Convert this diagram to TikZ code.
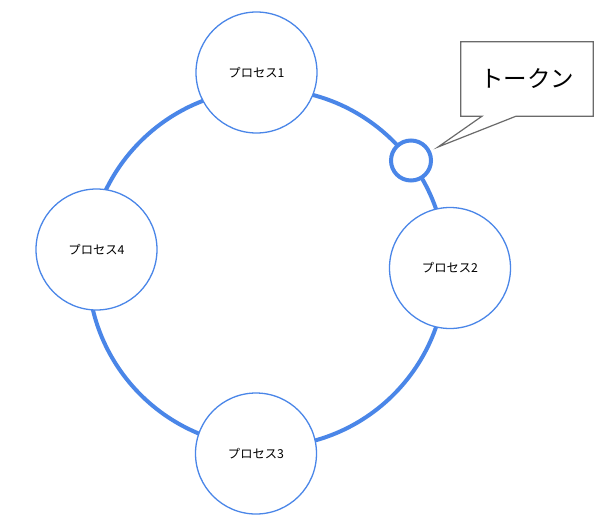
\documentclass[tikz,border=0pt]{standalone}
\usepackage{fontspec}
\setmainfont{Noto Sans CJK JP}
\definecolor{ringblue}{HTML}{4A86E8}
\definecolor{callgray}{HTML}{6A6A6A}
\begin{document}
\begin{tikzpicture}[x=1pt,y=-1pt,
  ringline/.style={draw=ringblue,line width=4pt},
  process/.style={circle,draw=ringblue,line width=1.3pt,fill=white,minimum size=121pt,inner sep=0pt,font=\fontsize{12.3}{14}\selectfont},
  tokencircle/.style={circle,draw=ringblue,line width=4pt,fill=white,minimum size=40pt,inner sep=0pt},
  calloutline/.style={draw=callgray,line width=1.2pt,line join=miter},
  callouttext/.style={minimum width=132pt,minimum height=74pt,inner sep=0pt,font=\fontsize{23.5}{27}\selectfont}
]
\useasboundingbox (0,0) rectangle (609,528);
\fill[white] (0,0) rectangle (609,528);
\coordinate (ringc) at (267,268);
\draw[ringline] (ringc) circle (179);
\node[process] (p1) at (256.5,72.5) {プロセス1};
\node[process] (p2) at (450,268) {プロセス2};
\node[process] (p3) at (256,453.5) {プロセス3};
\node[process] (p4) at (96.5,249.5) {プロセス4};
\node[tokencircle] (token) at (411,160.5) {};
\coordinate (tip) at (438,147);
\node[callouttext] (label) at (527,79) {トークン};
\draw[calloutline] (label.north west) -- (label.north east) -- (label.south east)
  -- ([xshift=-11pt]label.south) -- (tip) -- ([xshift=-45pt]label.south)
  -- (label.south west) -- cycle;
\end{tikzpicture}
\end{document}
